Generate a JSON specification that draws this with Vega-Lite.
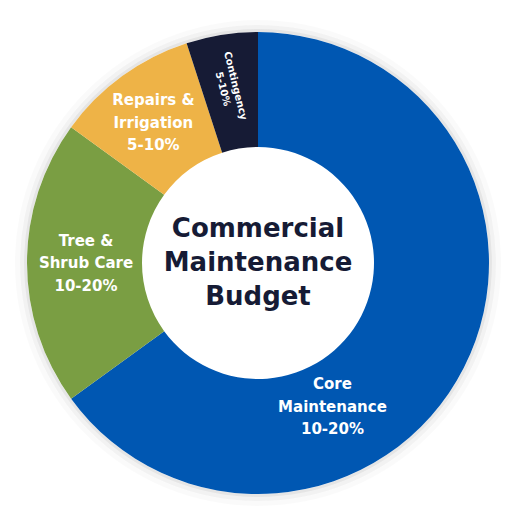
{
  "$schema": "https://vega.github.io/schema/vega-lite/v6.json",
  "width": 512,
  "height": 512,
  "autosize": {"type": "fit", "contains": "padding"},
  "padding": {"top": 14, "left": 4, "right": 0, "bottom": 0},
  "background": "white",
  "view": {"stroke": null},
  "datasets": {
    "slices": [
      {"category": "Core Maintenance", "share": 65, "order": 1},
      {"category": "Tree & Shrub Care", "share": 20, "order": 2},
      {"category": "Repairs & Irrigation", "share": 10, "order": 3},
      {"category": "Contingency", "share": 5, "order": 4}
    ],
    "labels": [
      {"label": "Core\nMaintenance\n10-20%", "pos": 42.4, "r": 162},
      {"label": "Tree &\nShrub Care\n10-20%", "pos": 75, "r": 172},
      {"label": "Repairs &\nIrrigation\n5-10%", "pos": 89.8, "r": 175}
    ],
    "small": [
      {"label": "Contingency\n5-10%", "pos": 97.4, "r": 178}
    ]
  },
  "layer": [
    {
      "data": {"values": [{}]},
      "mark": {"type": "arc", "innerRadius": 231, "outerRadius": 234, "color": "#000000", "opacity": 0.1},
      "encoding": {}
    },
    {
      "data": {"values": [{}]},
      "mark": {"type": "arc", "innerRadius": 234, "outerRadius": 238, "color": "#000000", "opacity": 0.05},
      "encoding": {}
    },
    {
      "data": {"values": [{}]},
      "mark": {"type": "arc", "innerRadius": 238, "outerRadius": 243, "color": "#000000", "opacity": 0.02},
      "encoding": {}
    },
    {
      "data": {"name": "slices"},
      "mark": {"type": "arc", "innerRadius": 116, "outerRadius": 231},
      "encoding": {
        "theta": {"field": "share", "type": "quantitative", "stack": true, "scale": {"domain": [0, 100]}},
        "order": {"field": "order", "type": "quantitative"},
        "color": {
          "field": "category",
          "type": "nominal",
          "scale": {
            "domain": ["Core Maintenance", "Tree & Shrub Care", "Repairs & Irrigation", "Contingency"],
            "range": ["#0057b2", "#7a9e43", "#eeb347", "#161b35"]
          },
          "legend": null
        }
      }
    },
    {
      "data": {"name": "labels"},
      "mark": {"type": "text", "font": "DejaVu Sans", "fontWeight": "bold", "fontSize": 15, "color": "white", "lineBreak": "\n", "lineHeight": 22.5, "dy": -22.5, "align": "center", "baseline": "middle"},
      "encoding": {
        "theta": {"field": "pos", "type": "quantitative", "stack": null, "scale": {"domain": [0, 100]}},
        "radius": {"field": "r", "type": "quantitative", "scale": null},
        "text": {"field": "label"}
      }
    },
    {
      "data": {"name": "small"},
      "mark": {"type": "text", "font": "DejaVu Sans", "fontWeight": "bold", "fontSize": 10, "angle": 76, "color": "white", "lineBreak": "\n", "lineHeight": 13, "dy": -6.5, "align": "center", "baseline": "middle"},
      "encoding": {
        "theta": {"field": "pos", "type": "quantitative", "stack": null, "scale": {"domain": [0, 100]}},
        "radius": {"field": "r", "type": "quantitative", "scale": null},
        "text": {"field": "label"}
      }
    },
    {
      "data": {"values": [{"title": "Commercial\nMaintenance\nBudget"}]},
      "mark": {"type": "text", "font": "DejaVu Sans", "fontWeight": "bold", "fontSize": 26, "color": "#161b35", "lineBreak": "\n", "lineHeight": 34, "dy": -34, "align": "center", "baseline": "middle"},
      "encoding": {"text": {"field": "title"}}
    }
  ]
}
